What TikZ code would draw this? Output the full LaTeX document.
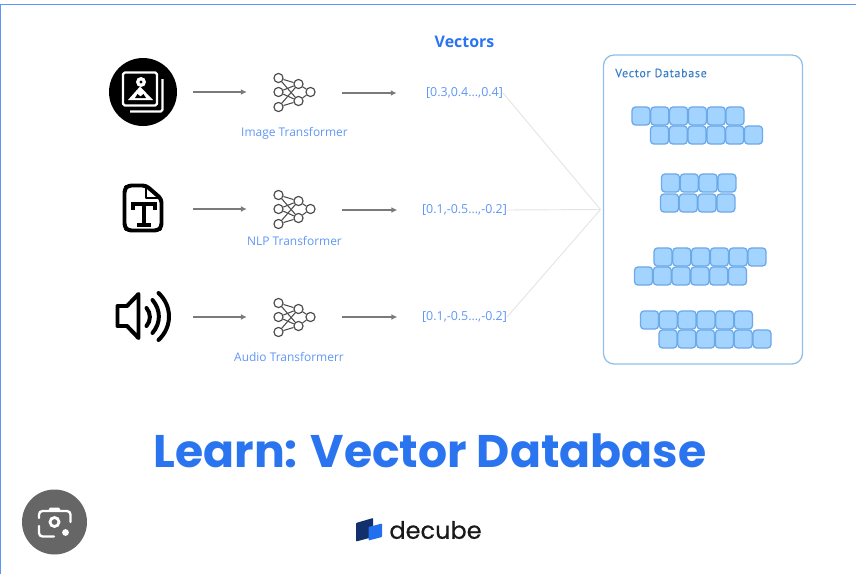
\documentclass[tikz,border=0pt]{standalone}
\usepackage{fontspec}
\setmainfont{Open Sans}
\newfontfamily\logofont{Poppins}[FakeBold=0.5]
\newfontfamily\titlefont{Poppins}
\newfontfamily\dbfont{PT Sans}[LetterSpace=6,FakeBold=0.3]
\usetikzlibrary{arrows.meta}

\definecolor{labelblue}{HTML}{5F96F5}
\definecolor{titleblue}{HTML}{2B74F0}
\definecolor{edgeblue}{HTML}{5C96F6}
\definecolor{cellfill}{HTML}{A3D3FF}
\definecolor{celledge}{HTML}{6CA9E8}
\definecolor{dbedge}{HTML}{8FC0EA}
\definecolor{dbtitle}{HTML}{3A7FC8}
\definecolor{arrowgrey}{HTML}{7A7A7A}
\definecolor{fangrey}{HTML}{E4E4E4}
\definecolor{lensgrey}{HTML}{666666}
\definecolor{logodark}{HTML}{12306B}
\definecolor{logolight}{HTML}{2270F0}

\tikzset{
  iconbox/.style={minimum width=85.4pt, minimum height=40pt, inner sep=0},
  nnbox/.style={minimum width=81pt, minimum height=40pt, inner sep=0},
  nnode/.style={circle, draw=black!70, fill=white, line width=1pt, minimum size=7.8pt, inner sep=0},
  flow/.style={draw=arrowgrey, line width=1.2pt, -{Latex[length=5pt,width=5pt]}},
  fan/.style={draw=fangrey, line width=0.8pt},
  modellabel/.style={text=labelblue, font=\fontsize{10.2}{12}\selectfont, inner sep=0},
  veclabel/.style={text=labelblue, font=\fontsize{10.6}{13}\selectfont, inner sep=0},
  cell/.style={rectangle, rounded corners=3pt, draw=celledge, fill=cellfill, line width=1.1pt, minimum size=15.4pt, inner sep=0},
  iconline/.style={draw=black, line width=3.4pt, line join=round, line cap=round},
  whiteline/.style={draw=white, line width=1.9pt, line join=round},
  nnicon/.pic={
    \node[nnode] (i1) at (-16,-14) {};
    \node[nnode] (i2) at (-16,0) {};
    \node[nnode] (i3) at (-16,15) {};
    \node[nnode] (h1) at (4,-8) {};
    \node[nnode] (h2) at (4,9) {};
    \node[nnode] (o1) at (16,0) {};
    \foreach \src in {i1,i2,i3} {
      \foreach \dst in {h1,h2} {
        \draw[black!70, line width=0.9pt] (\src) -- (\dst);
      }
    }
    \draw[black!70, line width=0.9pt] (h1) -- (o1) (h2) -- (o1);
  }
}

\begin{document}
\begin{tikzpicture}[x=0.03cm, y=-0.03cm]
\useasboundingbox (0,0) rectangle (856,574);

% screenshot edge
\draw[edgeblue, line width=1.2pt] (0.5,574) -- (0.5,4.5) -- (856,4.5);

% image row
\node[iconbox] (img-icon) at (143,92) {};
\node[nnbox] (img-nn) at (294.5,92) {};
\node[veclabel] (img-vec) at (464.5,93) {[0.3,0.4...,0.4]};
\node[modellabel] (img-label) at (294.5,133) {Image Transformer};
\pic (img-net) at (img-nn) {nnicon};
\draw[flow] (img-icon) -- (img-nn);
\draw[flow] (img-nn.east|-img-vec) -- ([xshift=-25] img-vec.west);

% text row
\node[iconbox] (txt-icon) at (143,209) {};
\node[nnbox] (txt-nn) at (294.5,209) {};
\node[veclabel] (txt-vec) at (464.5,210) {[0.1,-0.5...,-0.2]};
\node[modellabel] (txt-label) at (294.5,241) {NLP Transformer};
\pic (txt-net) at (txt-nn) {nnicon};
\draw[flow] (txt-icon) -- (txt-nn);
\draw[flow] (txt-nn.east|-txt-vec) -- ([xshift=-21] txt-vec.west);

% audio row
\node[iconbox] (aud-icon) at (143,317) {};
\node[nnbox] (aud-nn) at (294.5,317) {};
\node[veclabel] (aud-vec) at (464.5,317) {[0.1,-0.5...,-0.2]};
\node[modellabel] (aud-label) at (289,357) {Audio Transformerr};
\pic (aud-net) at (aud-nn) {nnicon};
\draw[flow] (aud-icon) -- (aud-nn);
\draw[flow] (aud-nn.east|-aud-vec) -- ([xshift=-21] aud-vec.west);

% image icon
\fill[black] (143,92) circle (34);
\draw[whiteline, rounded corners=1.5pt] (123,72.5) rectangle (157,105.5);
\draw[whiteline, rounded corners=1.5pt] (162.5,79) -- (162.5,111.5) -- (130,111.5);
\fill[white] (128,100) -- (140,86.5) -- (153,100) -- cycle;
\fill[black] (135,98) -- (137.5,94) -- (140.5,96.5) -- (143.5,94) -- (146,98) -- cycle;
\fill[white] (141,82) circle (5);
\fill[black] (141,82) circle (1.6);

% text icon
\draw[iconline, rounded corners=3pt] (146,185.5) -- (128,185.5) -- (124.5,189) -- (124.5,227) -- (128,230.5) -- (158,230.5) -- (161.5,227) -- (161.5,199) -- cycle;
\draw[draw=black, line width=1.8pt, line join=round] (146,186) -- (146,198) -- (161,198);
\draw[draw=black, line width=2.6pt] (133,210) -- (133,204) -- (155,204) -- (155,210);
\draw[draw=black, line width=3.2pt] (144,204) -- (144,225);
\draw[draw=black, line width=2.6pt] (137,225) -- (151,225);

% audio icon
\draw[iconline] (117.5,306) -- (127,306) -- (138.5,294) -- (138.5,338) -- (127,326) -- (117.5,326) -- cycle;
\draw[iconline] (146.5,308) .. controls (151,313) and (151,321) .. (146.5,326);
\draw[iconline] (152.5,300) .. controls (161,310) and (161,323) .. (152.5,333);
\draw[iconline] (158.5,293) .. controls (172.5,306) and (172.5,327) .. (158.5,340);

% vectors
\node[text=titleblue, font=\fontsize{13.6}{16}\selectfont\bfseries, inner sep=0] (vec-title) at (464.5,42) {Vectors};
\coordinate (fan-end) at (600.5,209.5);
\draw[fan] (img-vec.east) -- (fan-end);
\draw[fan] (txt-vec.east) -- (fan-end);
\draw[fan] (aud-vec.east) -- (fan-end);

% database
\draw[dbedge, line width=1.1pt, rounded corners=9pt] (603.5,55) rectangle (802.5,364);
\node[text=dbtitle, font=\dbfont\fontsize{10.2}{12}\selectfont, inner sep=0, anchor=west] (db-title) at (615,73) {Vector Database};

\foreach \rowname/\rowx/\rowy/\rowlen in {
  a/641/116/6, b/659.5/135/6, c/670.5/183/4, d/669.5/203/4,
  e/663/257/6, f/643.5/276/6, g/649.5/320/6, h/668/339/6} {
  \foreach \k in {1,...,\rowlen} {
    \node[cell] (cell-\rowname-\k) at ({\rowx+(\k-1)*18.8},\rowy) {};
  }
}

% footer
\node[text=titleblue, font=\titlefont\fontsize{39}{44}\selectfont\bfseries, inner sep=0] (main-title) at (430,451) {Learn: Vector Database};
\fill[logodark, rounded corners=0.6pt] (356,523) -- (373,518) -- (373,537) -- (356,541.5) -- cycle;
\fill[logolight, rounded corners=0.6pt] (368.5,527) -- (382,523.5) -- (382,537) -- (368.5,540.5) -- cycle;
\node[text=black!90, font=\logofont\fontsize{20.5}{24}\selectfont, inner sep=0] (logo-text) at (435.5,530) {decube};

% lens button
\fill[lensgrey] (54.5,522) circle (32.5);
\draw[white, line width=2pt, line cap=round, rounded corners=3pt] (39,518) -- (39,511) -- (70.5,511) -- (70.5,522);
\draw[white, line width=2pt, line cap=round, rounded corners=3pt] (39,526) -- (39,536.5) -- (54,536.5);
\draw[white, line width=2.4pt] (54.5,522) circle (4.5);
\fill[white] (48,511) -- (50,507.5) -- (59,507.5) -- (61,511) -- cycle;
\fill[white] (65.5,532.5) circle (3.4);
\end{tikzpicture}
\end{document}
